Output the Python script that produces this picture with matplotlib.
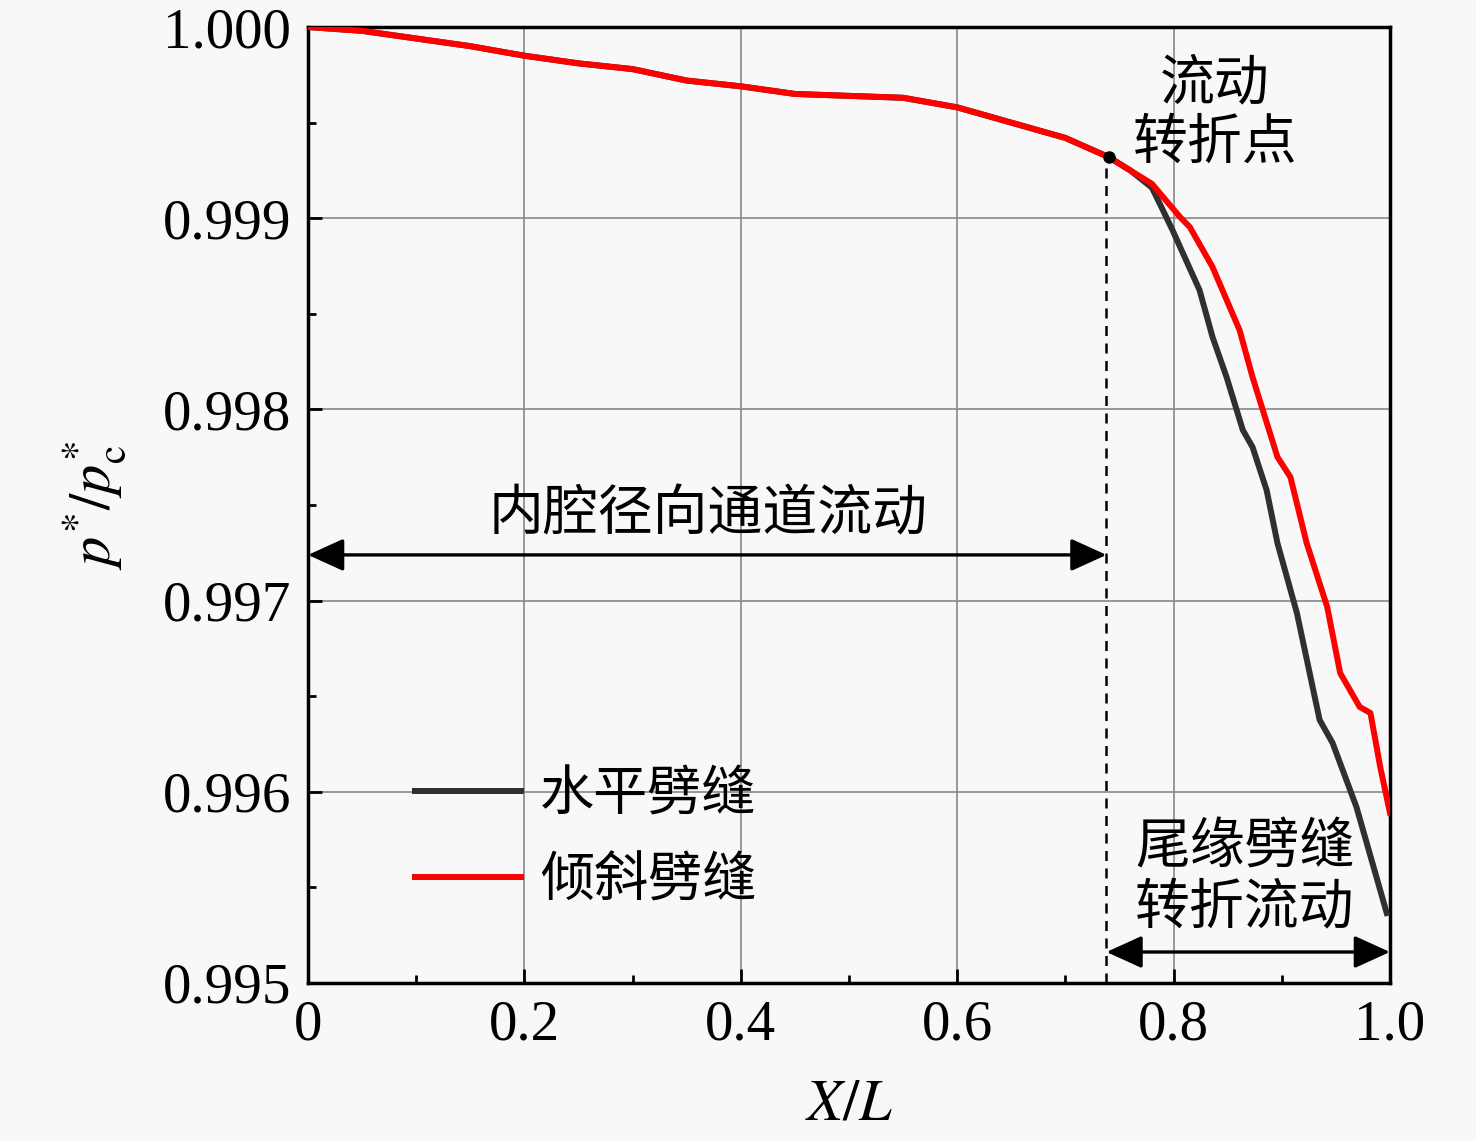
import matplotlib
matplotlib.use("Agg")
import matplotlib.pyplot as plt
from matplotlib.ticker import MultipleLocator, FixedLocator

plt.rcParams['font.family'] = ['Liberation Serif', 'Noto Sans CJK SC']
plt.rcParams['mathtext.fontset'] = 'stix'

# data
x_h = [0, 0.05, 0.1, 0.15, 0.2, 0.25, 0.3, 0.35, 0.4, 0.45, 0.5, 0.55, 0.6, 0.65,
       0.7, 0.74, 0.76, 0.78, 0.787, 0.799, 0.824, 0.836, 0.849, 0.864, 0.873,
       0.886, 0.896, 0.914, 0.935, 0.947, 0.969, 0.997]
y_h = [1.0, 0.99998, 0.99994, 0.99990, 0.99985, 0.99981, 0.99978, 0.99972, 0.99969,
       0.99965, 0.99964, 0.99963, 0.99958, 0.99950, 0.99942, 0.99932, 0.99925,
       0.99916, 0.999079, 0.998938, 0.998624, 0.998379, 0.998169, 0.997892,
       0.997803, 0.997578, 0.997301, 0.996935, 0.996376, 0.996255, 0.995921, 0.995366]
x_t = [0, 0.05, 0.1, 0.15, 0.2, 0.25, 0.3, 0.35, 0.4, 0.45, 0.5, 0.55, 0.6, 0.65,
       0.7, 0.74, 0.76, 0.78, 0.806, 0.815, 0.836, 0.861, 0.873, 0.896, 0.908,
       0.923, 0.942, 0.954, 0.972, 0.982, 0.991, 1.0]
y_t = [1.0, 0.99998, 0.99994, 0.99990, 0.99985, 0.99981, 0.99978, 0.99972, 0.99969,
       0.99965, 0.99964, 0.99963, 0.99958, 0.99950, 0.99942, 0.99932, 0.99925,
       0.99918, 0.999006, 0.998954, 0.998745, 0.998415, 0.998169, 0.997751,
       0.997646, 0.997301, 0.996967, 0.996621, 0.996444, 0.996412, 0.996130, 0.995890]
labels = ['水平劈缝', '倾斜劈缝']
x_ticks = [0, 0.2, 0.4, 0.6, 0.8, 1.0]
x_ticklabels = ['0', '0.2', '0.4', '0.6', '0.8', '1.0']
y_ticks = [0.995, 0.996, 0.997, 0.998, 0.999, 1.000]
y_ticklabels = ['0.995', '0.996', '0.997', '0.998', '0.999', '1.000']
turn_x, turn_y = 0.74, 0.99932
split_x = 0.738

bg = '#f8f8f8'
fig = plt.figure(figsize=(14.76, 11.41), dpi=100, facecolor=bg)
ax = fig.add_axes([0.2087, 0.1385, 0.7330, 0.8378])
ax.set_facecolor(bg)

ax.plot(x_h, y_h, color='#303030', lw=4.3, label=labels[0], zorder=3)
ax.plot(x_t, y_t, color='#ff0000', lw=4.3, label=labels[1], zorder=4)
ax.plot([turn_x], [turn_y], 'o', color='black', ms=8, zorder=5)

ax.set_xlim(0, 1.0)
ax.set_ylim(0.995, 1.000)
ax.xaxis.set_major_locator(FixedLocator(x_ticks))
ax.set_xticklabels(x_ticklabels)
ax.yaxis.set_major_locator(FixedLocator(y_ticks))
ax.set_yticklabels(y_ticklabels)
ax.xaxis.set_minor_locator(MultipleLocator(0.1))
ax.yaxis.set_minor_locator(MultipleLocator(0.0005))
ax.tick_params(which='major', direction='in', length=10, width=2, labelsize=41, pad=12)
ax.tick_params(which='minor', direction='in', length=6, width=2)
ax.grid(True, which='major', color='#888888', lw=1.2)
for s in ax.spines.values():
    s.set_linewidth(2.5)

ax.set_xlabel('$X/L$', fontsize=42, labelpad=20)
ax.set_ylabel('$p^{*}/p_{\\mathrm{c}}^{*}$', fontsize=42, labelpad=25)

# dashed divider
ax.plot([split_x, split_x], [0.995, turn_y], ls=(0, (4, 3)), color='black', lw=1.8, zorder=2)

# arrows
arr = dict(arrowstyle='<|-|>,head_length=2.2,head_width=1.0', color='black', lw=2.4,
           shrinkA=0, shrinkB=0)
ax.annotate('', xy=(0.0, 0.997239), xytext=(split_x, 0.997239), arrowprops=arr, zorder=6)
ax.annotate('', xy=(split_x, 0.995162), xytext=(1.0, 0.995162), arrowprops=arr, zorder=6)

cjk = ['Noto Sans CJK SC']
ax.text(0.37, 0.99745, '内腔径向通道流动', fontsize=39.5, family=cjk, ha='center', va='center')
ax.text(0.838, 0.99955, '流动\n转折点', fontsize=39.5, family=cjk, ha='center', va='center',
        linespacing=1.05)
ax.text(0.866, 0.99555, '尾缘劈缝\n转折流动', fontsize=39.5, family=cjk, ha='center', va='center',
        linespacing=1.05)

leg = ax.legend(loc='center left', bbox_to_anchor=(0.099, 0.152), frameon=False,
                prop={'family': cjk, 'size': 39}, handlelength=1.95, handletextpad=0.35,
                labelspacing=0.57, borderpad=0, borderaxespad=0)

fig.savefig('out.png', dpi=100, facecolor=bg)
